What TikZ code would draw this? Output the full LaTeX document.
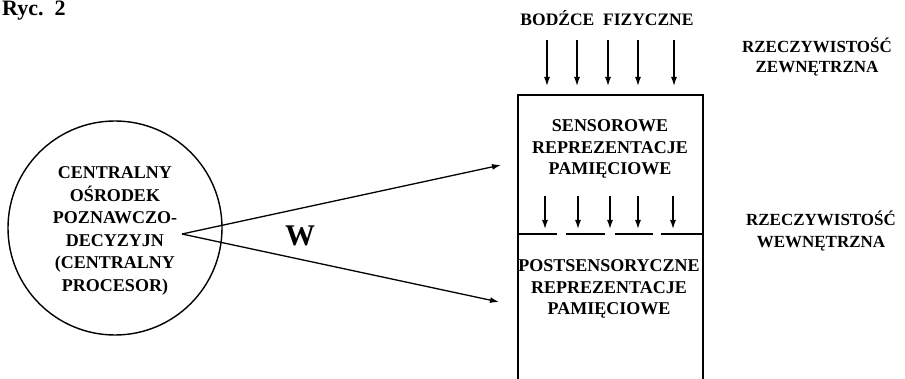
\documentclass[tikz,border=0pt]{standalone}
\usepackage{fontspec}
\setmainfont{Liberation Serif}
\usetikzlibrary{arrows.meta}
\begin{document}
\begin{tikzpicture}[x=1pt,y=-1pt,
  txt/.style={font=\bfseries\fontsize{18}{21.5}\selectfont, align=center, inner sep=0pt},
  arr/.style={line width=1.3pt, -{Latex[length=9pt,width=6pt]}},
  frame/.style={line width=1.7pt},
  divider/.style={line width=1.4pt}]
\useasboundingbox (0,0) rectangle (905,379);

% title
\node[font=\bfseries\fontsize{22}{25}\selectfont, anchor=base west, inner sep=0pt] (ryc) at (2,16) {Ryc.~~2};

% central processor
\node[draw, circle, line width=1.4pt, minimum size=214pt, inner sep=0pt] (cpu) at (115,228) {};
\node[txt, font=\bfseries\fontsize{18}{22.6}\selectfont] (cputxt) at (115,231)
  {CENTRALNY\\OŚRODEK\\POZNAWCZO-\\DECYZYJN\\(CENTRALNY\\PROCESOR)};

\coordinate (apex) at (182,234);
\coordinate (t1) at (501,165);
\coordinate (t2) at (499,302);
\draw[arr] (apex) -- (t1);
\draw[arr] (apex) -- (t2);
\node[font=\bfseries\fontsize{30}{32}\selectfont, inner sep=0pt] (w) at (300,236) {W};

% memory box
\coordinate (bl) at (518,385);
\coordinate (tl) at (518,95);
\coordinate (tr) at (703,95);
\coordinate (br) at (703,385);
\draw[frame] (bl) -- (tl) -- (tr) -- (br);

\foreach \i/\x in {1/547,2/577,3/608,4/638,5/674}{
  \coordinate (ts\i) at (\x,40);
  \coordinate (te\i) at (\x,86);
  \draw[arr] (ts\i) -- (te\i);
}
\foreach \i/\x in {1/545,2/578,3/610,4/638,5/673}{
  \coordinate (ms\i) at (\x,196);
  \coordinate (me\i) at (\x,229);
  \draw[arr] (ms\i) -- (me\i);
}
\foreach \i/\a/\b in {1/518/557,2/566/605,3/615/653,4/661/703}{
  \coordinate (da\i) at (\a,234);
  \coordinate (db\i) at (\b,234);
  \draw[divider] (da\i) -- (db\i);
}

\node[txt, font=\bfseries\fontsize{17.5}{21}\selectfont] (bodz) at (607,18) {BODŹCE\ \ FIZYCZNE};
\node[txt] (sens) at (610,149) {SENSOROWE\\REPREZENTACJE\\PAMIĘCIOWE};
\node[txt] (post) at (609,289) {POSTSENSORYCZNE\\REPREZENTACJE\\PAMIĘCIOWE};

\node[txt, font=\bfseries\fontsize{17}{20}\selectfont] (zew) at (817,57) {RZECZYWISTOŚĆ\\ZEWNĘTRZNA};
\node[txt, font=\bfseries\fontsize{17}{22}\selectfont] (wew) at (821,231) {RZECZYWISTOŚĆ\\WEWNĘTRZNA};
\end{tikzpicture}
\end{document}
